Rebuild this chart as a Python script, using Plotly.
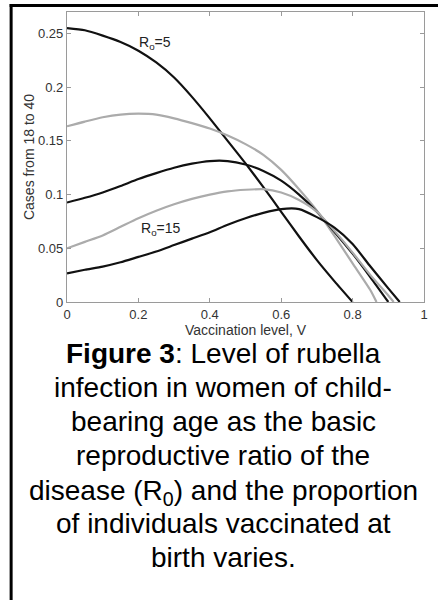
import plotly.graph_objects as go

# ---- data ----
V_grid = [0.0, 0.05, 0.1, 0.15, 0.2, 0.25, 0.3, 0.35, 0.4, 0.45, 0.5, 0.55, 0.6, 0.65, 0.7, 0.75, 0.8, 0.85, 0.9]

V_r5   = V_grid[:17]
Y_r5   = [0.255, 0.253, 0.248, 0.242, 0.234, 0.223, 0.209, 0.191, 0.171, 0.150, 0.129, 0.107, 0.084, 0.061, 0.039, 0.019, 0.0]

V_r75  = V_grid[:18] + [0.867]
Y_r75  = [0.1636, 0.168, 0.172, 0.1745, 0.1753, 0.1745, 0.171, 0.1665, 0.1615, 0.155, 0.147, 0.137, 0.123, 0.105, 0.085, 0.061, 0.036, 0.011, 0.0]

V_r10  = V_grid[:]
Y_r10  = [0.0926, 0.097, 0.102, 0.108, 0.1145, 0.120, 0.125, 0.1288, 0.1312, 0.1312, 0.128, 0.122, 0.113, 0.100, 0.084, 0.065, 0.045, 0.023, 0.0]

V_r125 = V_grid[:] + [0.915]
Y_r125 = [0.050, 0.056, 0.062, 0.070, 0.078, 0.085, 0.091, 0.096, 0.100, 0.103, 0.1045, 0.105, 0.102, 0.095, 0.084, 0.066, 0.046, 0.025, 0.006, 0.0]

V_r15  = V_grid[:] + [0.932]
Y_r15  = [0.0267, 0.030, 0.033, 0.037, 0.042, 0.047, 0.053, 0.059, 0.065, 0.072, 0.078, 0.083, 0.0865, 0.0865, 0.079, 0.069, 0.054, 0.033, 0.0127, 0.0]

series = [
    (V_r5, Y_r5, "#111111"),
    (V_r75, Y_r75, "#ababab"),
    (V_r10, Y_r10, "#111111"),
    (V_r125, Y_r125, "#ababab"),
    (V_r15, Y_r15, "#111111"),
]

x_ticks = [0, 0.2, 0.4, 0.6, 0.8, 1]
y_ticks = [0, 0.05, 0.1, 0.15, 0.2, 0.25]

caption_lines = [
    "<b>Figure 3</b>: Level of rubella",
    "infection in women of child-",
    "bearing age as the basic",
    "reproductive ratio of the",
    "disease (R<sub>0</sub>) and the proportion",
    "of individuals vaccinated at",
    "birth varies.",
]

# ---- figure ----
L, R, T, B = 67, 10, 12, 298
W, H = 438, 600
pw, ph = W - L - R, H - T - B

def px_to_paper_x(px):
    return (px - L) / pw

def py_to_paper_y(py):
    return (H - B - py) / ph

fig = go.Figure()
for vx, vy, col in series:
    fig.add_trace(go.Scatter(x=vx, y=vy, mode="lines",
                             line=dict(color=col, width=2.2, shape="spline", smoothing=0.6),
                             showlegend=False, hoverinfo="skip"))

FONT = "Liberation Sans, Arial"
axis_common = dict(showgrid=False, zeroline=False, showline=True, linecolor="#9a9a9a",
                   linewidth=1.3, mirror="ticks", ticks="inside", ticklen=4,
                   tickcolor="#9a9a9a", tickwidth=1,
                   tickfont=dict(family=FONT, size=13, color="#333333"))

fig.update_xaxes(range=[0, 1], tickvals=x_ticks, ticktext=[f"{v:g}" for v in x_ticks],
                 title=dict(text="Vaccination level, V", standoff=0,
                            font=dict(family=FONT, size=14, color="#333333")),
                 **axis_common)
fig.update_yaxes(range=[0, 0.27], tickvals=y_ticks, ticktext=[f"{v:g}" for v in y_ticks],
                 title=dict(text="Cases from 18 to 40", standoff=0,
                            font=dict(family=FONT, size=14, color="#333333")),
                 **axis_common)

# curve labels
fig.add_annotation(x=0.247, y=0.241, text="R<sub>o</sub>=5", showarrow=False,
                   font=dict(family=FONT, size=14, color="#222222"))
fig.add_annotation(x=0.262, y=0.068, text="R<sub>o</sub>=15", showarrow=False,
                   font=dict(family=FONT, size=14, color="#222222"))

# caption (baselines in pixels)
baselines = [363, 397, 431, 465, 499, 533, 567]
for i, (txt, base) in enumerate(zip(caption_lines, baselines)):
    off = 8 + (5 if "<sub>" in txt else 0)
    fig.add_annotation(xref="paper", yref="paper", x=px_to_paper_x(225), y=py_to_paper_y(base + off),
                       yanchor="bottom", xanchor="center", text=txt, showarrow=False,
                       font=dict(family=FONT, size=28, color="#000000"))

# outer box (left and top edges visible)
fig.add_shape(type="line", xref="paper", yref="paper",
              x0=px_to_paper_x(10.5), x1=px_to_paper_x(10.5), y0=py_to_paper_y(4), y1=py_to_paper_y(610),
              line=dict(color="black", width=3))
fig.add_shape(type="line", xref="paper", yref="paper",
              x0=px_to_paper_x(9), x1=px_to_paper_x(450), y0=py_to_paper_y(5.5), y1=py_to_paper_y(5.5),
              line=dict(color="black", width=3))

fig.update_layout(width=W, height=H, margin=dict(l=L, r=R, t=T, b=B),
                  paper_bgcolor="white", plot_bgcolor="white")

fig.write_html("out.html", config={"displayModeBar": False},
               post_script="document.body.style.margin='0';")
